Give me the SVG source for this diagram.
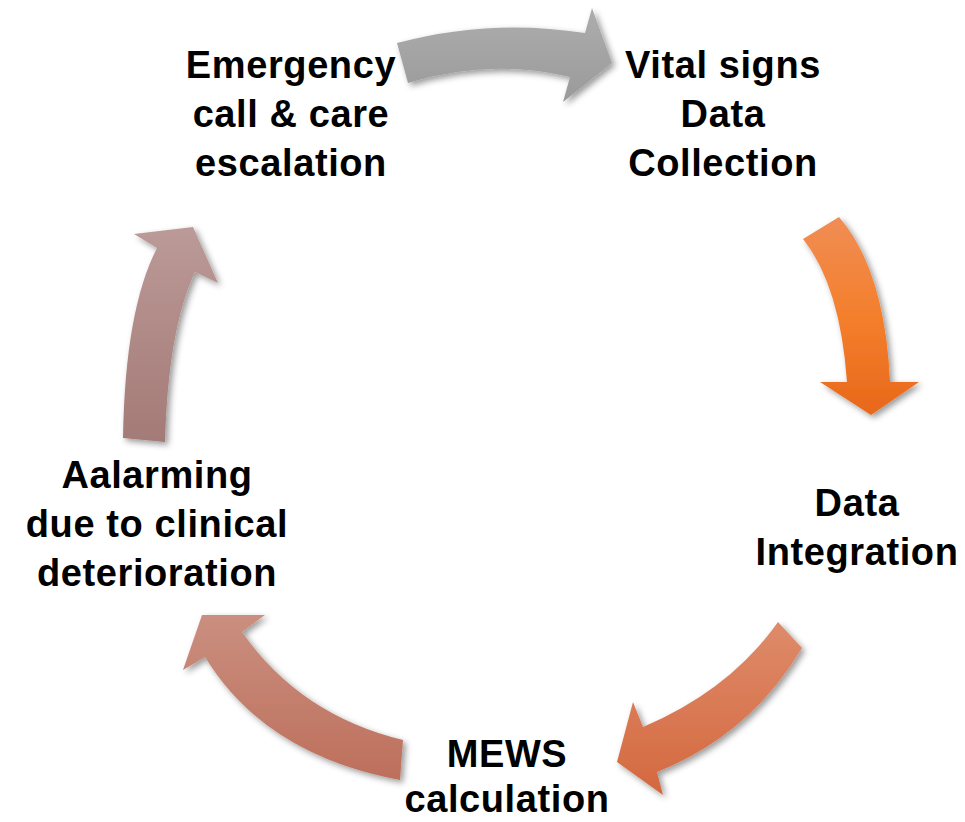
<svg xmlns="http://www.w3.org/2000/svg" width="965" height="822" viewBox="0 0 965 822">
  <style>
    .lbl { font-family: "Liberation Sans", Arial, sans-serif; font-weight: bold; font-size: 38px; letter-spacing: 0.6px; fill: #000; text-anchor: middle; }
    .arr { filter: url(#shadow); }
  </style>
  <defs>
    <filter id="shadow" x="-20%" y="-20%" width="140%" height="140%">
      <feDropShadow dx="3" dy="3" stdDeviation="3" flood-color="#000" flood-opacity="0.4"/>
    </filter>
    <linearGradient id="gGray" x1="0" y1="0" x2="0" y2="1">
      <stop offset="0" stop-color="#adadad"/>
      <stop offset="1" stop-color="#9a9a9a"/>
    </linearGradient>
    <linearGradient id="gOrange" x1="0" y1="0" x2="0" y2="1">
      <stop offset="0" stop-color="#f08d55"/>
      <stop offset="0.5" stop-color="#f47f2c"/>
      <stop offset="1" stop-color="#e8681b"/>
    </linearGradient>
    <linearGradient id="gCoral" x1="0" y1="0" x2="0" y2="1">
      <stop offset="0" stop-color="#de8b6a"/>
      <stop offset="1" stop-color="#d4683f"/>
    </linearGradient>
    <linearGradient id="gRose" x1="0" y1="0" x2="0" y2="1">
      <stop offset="0" stop-color="#ca8f80"/>
      <stop offset="1" stop-color="#bd6f5b"/>
    </linearGradient>
    <linearGradient id="gMauve" x1="0" y1="0" x2="0" y2="1">
      <stop offset="0" stop-color="#bb9a98"/>
      <stop offset="1" stop-color="#a47a76"/>
    </linearGradient>
  </defs>
  <rect width="965" height="822" fill="#ffffff"/>

  <g id="connectors">
    <path class="arr" fill="url(#gGray)" d="M397,43 Q490,18 585,33 L592,8 L612,63 L563,102 L570,77 Q490,58 408,83 Z"/>
    <path class="arr" fill="url(#gOrange)" d="M803,239 L839,217 Q885,270 890,382 L919,382 L871,415 L820,382 L847,382 Q840,285 803,239 Z"/>
    <path class="arr" fill="url(#gCoral)" d="M778,622 L802,648 Q750,735 657,772 L663,795 L617,762 L633,702 L643,727 Q730,690 778,622 Z"/>
    <path class="arr" fill="url(#gRose)" d="M403,740 L400,780 Q265,755 205,657 L183,670 L202,615 L265,615 L242,632 Q300,715 403,740 Z"/>
    <path class="arr" fill="url(#gMauve)" d="M123,438 L165,442 Q168,330 195,272 L218,283 L193,227 L134,234 L157,248 Q125,310 123,438 Z"/>
  </g>

  <g id="node-emergency">
    <text class="lbl" x="291" y="78">Emergency</text>
    <text class="lbl" x="291" y="127">call &amp; care</text>
    <text class="lbl" x="291" y="176">escalation</text>
  </g>
  <g id="node-vitals">
    <text class="lbl" x="723" y="78">Vital signs</text>
    <text class="lbl" x="723" y="127">Data</text>
    <text class="lbl" x="723" y="176">Collection</text>
  </g>
  <g id="node-integration">
    <text class="lbl" x="857" y="516">Data</text>
    <text class="lbl" x="857" y="565">Integration</text>
  </g>
  <g id="node-mews">
    <text class="lbl" x="507" y="767">MEWS</text>
    <text class="lbl" x="507" y="812">calculation</text>
  </g>
  <g id="node-alarming">
    <text class="lbl" x="157" y="488">Aalarming</text>
    <text class="lbl" x="157" y="537">due to clinical</text>
    <text class="lbl" x="157" y="586">deterioration</text>
  </g>
</svg>
